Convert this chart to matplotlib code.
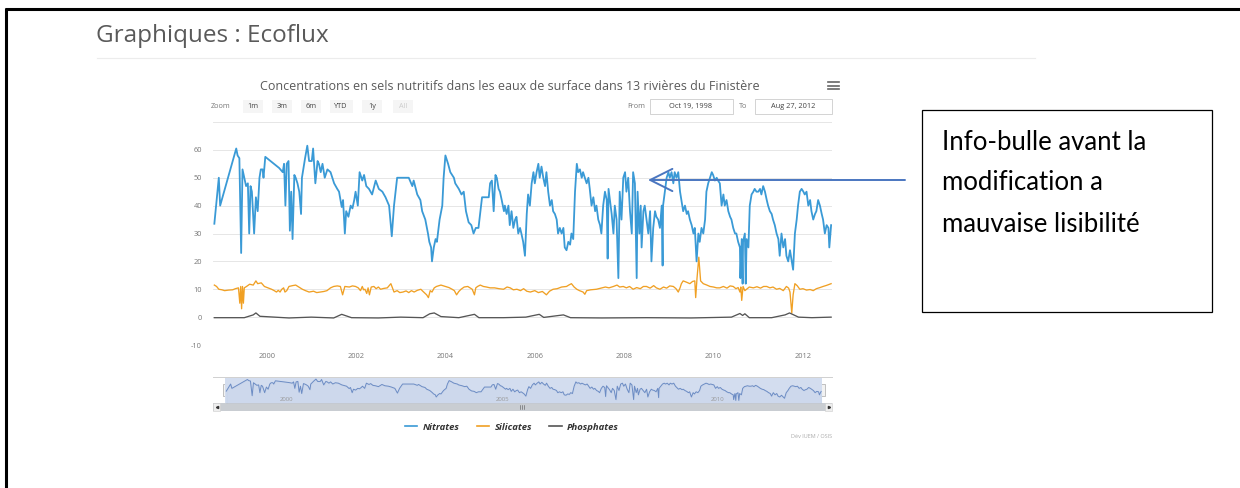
import numpy as np
import matplotlib
matplotlib.use("Agg")
import matplotlib.pyplot as plt
from matplotlib.patches import Rectangle
from matplotlib.lines import Line2D

W, H = 1240, 488
plt.rcParams['font.family'] = ['Open Sans', 'DejaVu Sans']

# ---- data (decimal years, mg/l) ----
nitrates_year = [
    1998.83, 1998.93, 1998.96, 1999.32, 1999.35, 1999.39, 1999.43, 1999.46, 1999.50, 1999.54,
    1999.58, 1999.61, 1999.64, 1999.67, 1999.72, 1999.76, 1999.80, 1999.84, 1999.87, 1999.91,
    1999.93, 1999.97, 2000.28, 2000.36, 2000.39, 2000.42, 2000.45, 2000.49, 2000.52, 2000.55,
    2000.58, 2000.62, 2000.65, 2000.69, 2000.73, 2000.77, 2000.79, 2000.86, 2000.91, 2000.95,
    2001.01, 2001.04, 2001.09, 2001.14, 2001.17, 2001.21, 2001.25, 2001.30, 2001.36, 2001.43,
    2001.51, 2001.58, 2001.62, 2001.68, 2001.71, 2001.75, 2001.78, 2001.83, 2001.88, 2001.92,
    2001.96, 2001.99, 2002.04, 2002.08, 2002.14, 2002.18, 2002.23, 2002.29, 2002.36, 2002.44,
    2002.51, 2002.59, 2002.66, 2002.74, 2002.80, 2002.85, 2002.92, 2003.03, 2003.18, 2003.26,
    2003.29, 2003.37, 2003.44, 2003.48, 2003.55, 2003.61, 2003.64, 2003.68, 2003.70, 2003.74,
    2003.78, 2003.81, 2003.87, 2003.93, 2003.96, 2004.00, 2004.06, 2004.11, 2004.19, 2004.22,
    2004.30, 2004.36, 2004.41, 2004.46, 2004.52, 2004.58, 2004.63, 2004.68, 2004.74, 2004.82,
    2004.93, 2004.97, 2005.00, 2005.04, 2005.08, 2005.12, 2005.15, 2005.19,
    2005.22, 2005.26, 2005.31, 2005.33, 2005.37, 2005.41, 2005.44, 2005.48, 2005.52, 2005.56,
    2005.59, 2005.63, 2005.67, 2005.70, 2005.74, 2005.78, 2005.82, 2005.85, 2005.89, 2005.93,
    2005.97, 2006.00, 2006.04, 2006.08, 2006.11, 2006.15, 2006.19, 2006.23, 2006.26, 2006.30,
    2006.34, 2006.38, 2006.41, 2006.45, 2006.49, 2006.52, 2006.56, 2006.60, 2006.64, 2006.67,
    2006.71, 2006.75, 2006.79, 2006.82, 2006.86, 2006.90, 2006.94, 2006.97, 2007.01, 2007.05,
    2007.08, 2007.12, 2007.16, 2007.20, 2007.23, 2007.27, 2007.31, 2007.35, 2007.38, 2007.42,
    2007.46, 2007.49, 2007.53, 2007.57, 2007.61, 2007.63, 2007.65, 2007.68, 2007.72, 2007.76,
    2007.79, 2007.83, 2007.87, 2007.90, 2007.94, 2007.98, 2008.02, 2008.05, 2008.09, 2008.13,
    2008.17, 2008.20, 2008.24, 2008.28, 2008.30, 2008.34, 2008.37, 2008.39, 2008.43, 2008.46,
    2008.50, 2008.54, 2008.58, 2008.61, 2008.65, 2008.69, 2008.72, 2008.76, 2008.80, 2008.84,
    2008.86, 2008.87, 2008.91, 2008.95, 2008.99, 2009.02, 2009.06, 2009.10, 2009.13, 2009.17,
    2009.21, 2009.25, 2009.28, 2009.32, 2009.36, 2009.40, 2009.43, 2009.47, 2009.51, 2009.55,
    2009.58, 2009.62, 2009.66, 2009.69, 2009.73, 2009.77, 2009.81, 2009.84, 2009.88, 2009.92,
    2009.96, 2009.99, 2010.03, 2010.07, 2010.10, 2010.14, 2010.18, 2010.22, 2010.25, 2010.29,
    2010.33, 2010.37, 2010.40, 2010.44, 2010.48, 2010.51, 2010.55, 2010.59, 2010.60, 2010.63,
    2010.65, 2010.66, 2010.70, 2010.72, 2010.74, 2010.78, 2010.81, 2010.85, 2010.89, 2010.92,
    2010.96, 2011.00, 2011.04, 2011.07, 2011.11, 2011.15, 2011.19, 2011.22, 2011.26, 2011.30,
    2011.33, 2011.37, 2011.41, 2011.45, 2011.48, 2011.52, 2011.56, 2011.60, 2011.63, 2011.67,
    2011.71, 2011.75, 2011.78, 2011.82, 2011.86, 2011.89, 2011.93, 2011.97, 2012.01, 2012.04,
    2012.08, 2012.12, 2012.16, 2012.19, 2012.23, 2012.27, 2012.30, 2012.34, 2012.38, 2012.42,
    2012.45, 2012.49, 2012.53, 2012.57, 2012.59, 2012.63,
]
nitrates_val = [
    33.5, 50, 40, 60.5, 58, 57, 23, 53, 50, 47,
    48, 30, 47, 45, 30, 43, 38, 50, 53, 53,
    50, 57.5, 53.5, 52, 55, 40, 55, 56, 31, 45,
    28, 51, 50, 48, 45, 37, 50, 57, 61.5, 56,
    56, 60.5, 48, 56, 55, 52, 55, 50, 53, 52,
    48, 46, 45, 39.5, 42, 30, 38, 36, 40, 39,
    42, 45, 40, 52, 49, 51, 47, 46, 44, 49,
    46, 45, 43, 40, 29, 40, 50, 50, 50, 47,
    49, 44, 42, 38, 35, 30, 27, 25, 20, 25,
    28, 27, 35, 40, 50, 58, 55, 52, 50, 48,
    46, 44, 45, 38, 34, 33, 30, 32, 32, 43,
    43, 43, 48, 49, 38, 51, 50, 46,
    45, 42, 38, 40, 37, 40, 33, 38, 32, 35,
    36, 30, 32, 30, 27, 22, 37, 44, 40, 48,
    52, 48, 52, 55, 50, 54, 50, 47, 52, 45,
    40, 42, 38, 37, 35, 30, 32, 30, 32, 25,
    24, 27, 26, 30, 28, 45, 55, 52, 53, 50,
    52, 50, 48, 50, 46, 40, 43, 38, 40, 35,
    33, 30, 40, 45, 42, 21, 46, 42, 37, 30,
    40, 35, 14, 45, 35, 50, 52, 45, 50, 38,
    30, 52, 48, 14, 45, 30, 40, 25, 38, 40,
    35, 30, 38, 20, 32, 38, 36, 35, 32, 40,
    18.5, 40, 45, 50, 52, 50, 52, 48, 52, 50,
    52, 45, 42, 38, 40, 37, 38, 35, 33, 30,
    32, 20, 30, 27, 32, 30, 35, 45, 48, 50,
    52, 51, 49, 50, 49, 48, 40, 44, 40, 42,
    38, 36, 35, 32, 30, 30, 27, 25, 14, 28,
    12, 27, 30, 12, 28, 25, 40, 44, 45, 46,
    45, 45, 46, 44, 47, 45, 42, 40, 38, 37,
    35, 33, 30, 28, 22, 30, 25, 28, 22, 20,
    24, 20, 17, 30, 35, 40, 45, 46, 45, 44,
    45, 40, 42, 38, 35, 37, 38, 42, 40, 37,
    35, 30, 33, 32, 25, 33,
]

silicates_pts = [
    (1998.83, 11.5), (1998.88, 11), (1998.93, 10), (1999.00, 9.8), (1999.06, 9.5),
    (1999.15, 9.7), (1999.24, 9.8), (1999.30, 10.2), (1999.37, 10.5), (1999.40, 5),
    (1999.42, 11), (1999.44, 3), (1999.46, 11), (1999.48, 5), (1999.50, 10.5),
    (1999.55, 11), (1999.62, 11.8), (1999.70, 11.5), (1999.76, 13), (1999.80, 12),
    (1999.88, 12.3), (1999.95, 11), (2000.03, 10.5), (2000.11, 10), (2000.17, 9.5),
    (2000.22, 9), (2000.26, 9.6), (2000.30, 9), (2000.34, 10), (2000.38, 10.5),
    (2000.41, 9), (2000.45, 9.5), (2000.50, 11), (2000.58, 11.3), (2000.65, 11.5),
    (2000.72, 10.8), (2000.80, 10), (2000.87, 9.5), (2000.95, 9), (2001.05, 9.3),
    (2001.12, 8.8), (2001.20, 9), (2001.28, 9.2), (2001.35, 9.5), (2001.43, 10.5),
    (2001.50, 11), (2001.58, 11.2), (2001.65, 11), (2001.70, 8), (2001.75, 11),
    (2001.85, 10.8), (2001.92, 11.2), (2001.99, 11), (2002.05, 10.5), (2002.10, 9.5),
    (2002.14, 11), (2002.17, 9.8), (2002.20, 10), (2002.24, 8.5), (2002.27, 10.5),
    (2002.30, 8), (2002.34, 10.8), (2002.40, 11), (2002.45, 10.2), (2002.50, 10.8),
    (2002.55, 10), (2002.62, 10.3), (2002.70, 10.5), (2002.78, 12), (2002.85, 9),
    (2002.92, 9.5), (2002.98, 8.8), (2003.05, 9), (2003.12, 9.4), (2003.18, 8.8),
    (2003.24, 9.5), (2003.30, 9), (2003.37, 9.6), (2003.45, 10), (2003.50, 9.2),
    (2003.58, 8), (2003.62, 7), (2003.66, 9.5), (2003.70, 9), (2003.75, 10.5),
    (2003.80, 11), (2003.90, 11.5), (2004.00, 11), (2004.08, 10.6), (2004.15, 10),
    (2004.20, 9.5), (2004.25, 8), (2004.30, 9.2), (2004.35, 10), (2004.42, 10.8),
    (2004.50, 11), (2004.55, 10.5), (2004.60, 10), (2004.65, 8), (2004.68, 10.5),
    (2004.72, 11), (2004.78, 11.5), (2004.85, 11), (2004.92, 10.8), (2005.00, 10.5),
    (2005.10, 10.5), (2005.20, 10.2), (2005.30, 10), (2005.38, 10.8), (2005.45, 10.5),
    (2005.52, 9.8), (2005.60, 10), (2005.68, 9.5), (2005.75, 10.2), (2005.82, 9.3),
    (2005.90, 9), (2006.00, 9.5), (2006.08, 8.8), (2006.17, 9.2), (2006.26, 8),
    (2006.33, 9.3), (2006.41, 10), (2006.50, 10.2), (2006.60, 10.8), (2006.71, 11),
    (2006.76, 11.5), (2006.82, 12), (2006.88, 10.8), (2006.94, 10), (2007.00, 9.5),
    (2007.08, 9), (2007.12, 8.2), (2007.16, 9.5), (2007.25, 9.8), (2007.38, 10),
    (2007.48, 10.4), (2007.58, 10.8), (2007.66, 10.5), (2007.76, 11), (2007.84, 11.5),
    (2007.90, 10.8), (2007.98, 11), (2008.05, 10.5), (2008.12, 11), (2008.20, 10),
    (2008.28, 10.6), (2008.36, 10.2), (2008.43, 11), (2008.50, 11), (2008.58, 10.4),
    (2008.66, 11.3), (2008.72, 10.5), (2008.80, 10), (2008.88, 10.8), (2008.95, 10.4),
    (2009.02, 11.2), (2009.10, 11), (2009.16, 10.2), (2009.21, 9), (2009.25, 10.5),
    (2009.28, 12), (2009.32, 13), (2009.40, 12.5), (2009.47, 12), (2009.53, 12.8),
    (2009.58, 13), (2009.60, 7), (2009.63, 14), (2009.67, 21.5), (2009.71, 13),
    (2009.77, 12), (2009.85, 11.5), (2009.92, 11), (2010.00, 10.8), (2010.07, 10.5),
    (2010.14, 10.5), (2010.22, 11), (2010.30, 10.4), (2010.37, 11.2), (2010.44, 11),
    (2010.50, 10.2), (2010.55, 10.6), (2010.59, 9), (2010.61, 10.8), (2010.63, 6),
    (2010.66, 11), (2010.70, 9.5), (2010.74, 10), (2010.80, 10.8), (2010.89, 10.5),
    (2010.97, 10.9), (2011.05, 10.4), (2011.12, 11), (2011.19, 11), (2011.26, 10.5),
    (2011.33, 10.8), (2011.41, 10), (2011.48, 10.3), (2011.56, 9.5), (2011.63, 11),
    (2011.68, 10.4), (2011.71, 9), (2011.75, 1.5), (2011.78, 8), (2011.82, 12),
    (2011.87, 11.3), (2011.93, 10), (2012.00, 10.2), (2012.08, 9.7), (2012.16, 9.9),
    (2012.23, 9.5), (2012.30, 10.2), (2012.38, 10.6), (2012.45, 11), (2012.53, 11.4),
    (2012.63, 12),
]
silicates_year = [p[0] for p in silicates_pts]
silicates_val = [p[1] for p in silicates_pts]

phosphates_year = [
    1998.83, 1999.50, 1999.70, 1999.76, 1999.85, 2000.50, 2001.00, 2001.50, 2001.68, 2001.90,
    2002.50, 2003.00, 2003.50, 2003.65, 2003.75, 2003.90, 2004.30, 2004.65, 2004.75, 2005.30,
    2005.80, 2006.10, 2006.20, 2006.64, 2006.80, 2007.50, 2008.50, 2009.50, 2010.40, 2010.59,
    2010.65, 2010.70, 2010.80, 2011.30, 2011.60, 2011.70, 2011.90, 2012.20, 2012.63,
]
phosphates_val = [
    -0.2, -0.2, 0.8, 1.5, 0.3, -0.3, 0, -0.3, 1.0, -0.2,
    -0.3, 0, -0.2, 1.2, 1.5, 0.2, -0.2, 1.0, -0.2, -0.2,
    0, 1.0, -0.1, 0.8, -0.2, -0.3, -0.2, -0.3, 0, 1.3,
    0.6, 1.2, -0.2, -0.2, 0.8, 1.5, 0, -0.2, 0,
]

series_names = ['Nitrates', 'Silicates', 'Phosphates']
series_colors = ['#3a9ad6', '#f0a024', '#555555']
y_ticks = [-10, 0, 10, 20, 30, 40, 50, 60]
x_ticks = [2000, 2002, 2004, 2006, 2008, 2010, 2012]
nav_ticks = [2000, 2005, 2010]
zoom_buttons = ['1m', '3m', '6m', 'YTD', '1y', 'All']
date_from, date_to = 'Oct 19, 1998', 'Aug 27, 2012'
x_start, x_end = 1998.8, 2012.65
title = 'Concentrations en sels nutritifs dans les eaux de surface dans 13 rivières du Finistère'


def box(l, t, r, b):
    return [l / W, 1 - b / H, (r - l) / W, (b - t) / H]


fig = plt.figure(figsize=(W / 100, H / 100), dpi=100)

# page background in pixel coordinates
bg = fig.add_axes([0, 0, 1, 1], zorder=0)
bg.set_xlim(0, W)
bg.set_ylim(H, 0)
bg.axis('off')

bg.plot([6, 6], [8, H], color='black', lw=2.2, solid_capstyle='butt')
bg.plot([5, W], [9, 9], color='black', lw=2.2, solid_capstyle='butt')
bg.text(96, 36, 'Graphiques : Ecoflux', fontsize=17.5, color='#5a5a5a', va='center')
bg.plot([97, 1035], [58, 58], color='#ececec', lw=0.8)

bg.text(510, 86, title, fontsize=9, color='#5a5a5a', ha='center', va='center')
for yy in [82, 85.5, 89]:
    bg.plot([828, 839], [yy, yy], color='#666666', lw=1.2)

# range selector
bg.text(211, 106, 'Zoom', fontsize=5.2, color='#777777', va='center')
for lab, cx in zip(zoom_buttons, [253, 282, 311, 341, 372, 403]):
    bw = 23 if lab == 'YTD' else 20
    bg.add_patch(Rectangle((cx - bw / 2, 100), bw, 13, fc='#f5f5f5', ec='none'))
    bg.text(cx, 106.5, lab, fontsize=5.2, color='#cccccc' if lab == 'All' else '#444444',
            ha='center', va='center')
bg.text(636, 106, 'From', fontsize=5.2, color='#777777', ha='center', va='center')
bg.add_patch(Rectangle((650, 99), 83, 15, fc='white', ec='#cccccc', lw=0.6))
bg.text(691, 106.5, date_from, fontsize=5.3, color='#444444', ha='center', va='center')
bg.text(743, 106, 'To', fontsize=5.2, color='#777777', ha='center', va='center')
bg.add_patch(Rectangle((755, 99), 77, 15, fc='white', ec='#cccccc', lw=0.6))
bg.text(793, 106.5, date_to, fontsize=5.3, color='#444444', ha='center', va='center')

# main plot
ax = fig.add_axes(box(213, 122, 832, 345), zorder=2)
ax.patch.set_alpha(0)
ax.plot(nitrates_year, nitrates_val, color=series_colors[0], lw=1.3)
ax.plot(silicates_year, silicates_val, color=series_colors[1], lw=0.95)
ax.plot(phosphates_year, phosphates_val, color=series_colors[2], lw=0.95)
ax.set_xlim(x_start, x_end)
ax.set_ylim(-10, 70)
ax.set_yticks(y_ticks + [70])
ax.set_yticklabels([str(v) for v in y_ticks] + [''])
ax.set_xticks(x_ticks)
ax.set_xticklabels([str(v) for v in x_ticks])
ax.grid(axis='y', color='#e6e6e6', lw=0.7)
ax.set_axisbelow(True)
for s in ax.spines.values():
    s.set_visible(False)
ax.tick_params(axis='both', length=0, labelsize=5.3, labelcolor='#777777')
ax.tick_params(axis='y', pad=8)
ax.tick_params(axis='x', pad=6)

# navigator
bg.plot([213, 832], [377, 377], color='#d0d0d0', lw=0.7)
nav = fig.add_axes(box(225, 378, 822, 403), zorder=2)
nav.set_facecolor('#d3ddef')
nav.plot(nitrates_year, nitrates_val, color='#6c8cc4', lw=0.7)
nav.fill_between(nitrates_year, nitrates_val, -20, color='#6c8cc4', alpha=0.05)
nav.set_xlim(x_start, x_end)
nav.set_ylim(6, 64)
nav.set_xticks([])
nav.set_yticks([])
for s in nav.spines.values():
    s.set_visible(False)
for yr in nav_ticks:
    nav.text(yr + 0.07, 8, str(yr), fontsize=4.3, color='#999999', va='bottom', ha='left')
for hx in [223, 819]:
    bg.add_patch(Rectangle((hx, 384), 6, 12, fc='#f2f2f2', ec='#aaaaaa', lw=0.5, zorder=3))

# scrollbar
bg.add_patch(Rectangle((213, 403), 619, 8, fc='#c9cdd2', ec='none'))
for ax0 in [213, 825]:
    bg.add_patch(Rectangle((ax0, 403), 7, 8, fc='#eeeeee', ec='#cccccc', lw=0.4))
bg.plot([216.5], [407], marker='<', ms=1.6, color='#333333')
bg.plot([828.5], [407], marker='>', ms=1.6, color='#333333')
for gx in [520, 522, 524]:
    bg.plot([gx, gx], [405, 409], color='#555555', lw=0.4)

# legend
leg_handles = [Line2D([], [], color=c, lw=1.2) for c in series_colors]
fig.legend(leg_handles, series_names, loc='center', bbox_to_anchor=(512 / W, 1 - 427 / H),
           ncol=3, frameon=False, handlelength=1.3, handletextpad=0.6, columnspacing=1.8,
           prop={'size': 6.8, 'weight': 'bold', 'style': 'italic'}, labelcolor='#333333')
bg.text(832, 437, 'Dév IUEM / OSIS', fontsize=4, color='#aaaaaa', ha='right', va='center')

# annotation on top
top = fig.add_axes([0, 0, 1, 1], zorder=5)
top.set_xlim(0, W)
top.set_ylim(H, 0)
top.axis('off')
top.add_patch(Rectangle((922, 110), 290, 202, fill=False, ec='black', lw=0.9))
for i, line in enumerate(['Info-bulle avant la', 'modification a', 'mauvaise lisibilité']):
    top.text(942, 142 + 41 * i, line, fontsize=18.5, family=['Lato', 'DejaVu Sans'],
             color='black', va='center')
top.annotate('', xy=(648, 180), xytext=(905, 180),
             arrowprops=dict(arrowstyle='->, head_length=0.8, head_width=0.4',
                             color='#4a76c0', lw=1.4, mutation_scale=20,
                             shrinkA=0, shrinkB=0))

fig.savefig('out.png', dpi=100)
